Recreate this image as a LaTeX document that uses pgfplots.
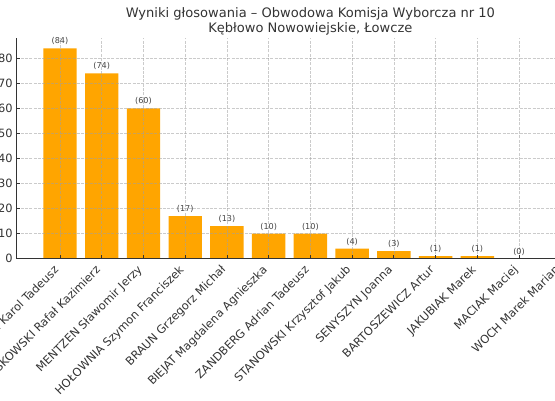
\documentclass[border=0pt]{standalone}
\usepackage{fontspec}
\setmainfont{DejaVu Sans}
\usepackage{pgfplots}
\pgfplotsset{compat=1.18}
\definecolor{barorange}{HTML}{FFA500}
\definecolor{txtgray}{HTML}{333333}
\definecolor{lblgray}{HTML}{444444}
\definecolor{gridgray}{HTML}{A0A0A0}

\begin{document}
\begin{tikzpicture}
\begin{axis}[
  at={(16.6pt,141.3pt)}, anchor=south west,
  scale only axis, width=587.6pt, height=220.9pt,
  xmin=-1.04, xmax=13.04, ymin=0, ymax=88.2,
  ybar, bar width=0.8, bar shift=0pt,
  axis x line*=bottom, axis y line*=left,
  axis line style={draw=txtgray, line width=0.8pt},
  tick align=inside, major tick length=3.5pt,
  tick style={draw=txtgray, line width=0.8pt},
  xmajorgrids, ymajorgrids,
  major grid style={draw=gridgray, draw opacity=0.55, dash pattern=on 3pt off 1.3pt, line width=0.6pt},
  axis on top,
  ytick={0,10,...,80},
  xtick=data,
  xticklabels={NAWROCKI Karol Tadeusz, TRZASKOWSKI Rafał Kazimierz, MENTZEN Sławomir Jerzy,
    HOŁOWNIA Szymon Franciszek, BRAUN Grzegorz Michał, BIEJAT Magdalena Agnieszka,
    ZANDBERG Adrian Tadeusz, STANOWSKI Krzysztof Jakub, SENYSZYN Joanna,
    BARTOSZEWICZ Artur, JAKUBIAK Marek, MACIAK Maciej, WOCH Marek Marian},
  /pgf/number format/assume math mode=true,
  ticklabel style={font=\fontsize{11.4}{13}\selectfont, text=txtgray},
  yticklabel style={anchor=east, inner sep=0pt, xshift=-3.8pt},
  xticklabel style={inner sep=0pt, text height=0.76em, text depth=0.24em,
    xshift=-6.2pt, yshift=-6.3pt, rotate=45, anchor=north east},
  title={Wyniki głosowania – Obwodowa Komisja Wyborcza nr 10\\Kębłowo Nowowiejskie, Łowcze},
  every axis title/.style={at={(0.5,1)}, anchor=south, inner sep=0pt, yshift=2.8pt, align=center,
    font=\fontsize{13.05}{14.4}\selectfont, text=txtgray},
  nodes near coords={(\pgfmathprintnumber{\pgfplotspointmeta})},
  every node near coord/.append style={font=\fontsize{8.1}{9}\selectfont, text=lblgray,
    inner sep=0pt, yshift=3.2pt},
]
\addplot[fill=barorange, draw=none] coordinates {
  (0,84) (1,74) (2,60) (3,17) (4,13) (5,10) (6,10)
  (7,4) (8,3) (9,1) (10,1) (11,0) (12,0)
};
\end{axis}
\pgfresetboundingbox
\path (0,0) rectangle (555pt,400pt);
\end{tikzpicture}
\end{document}
